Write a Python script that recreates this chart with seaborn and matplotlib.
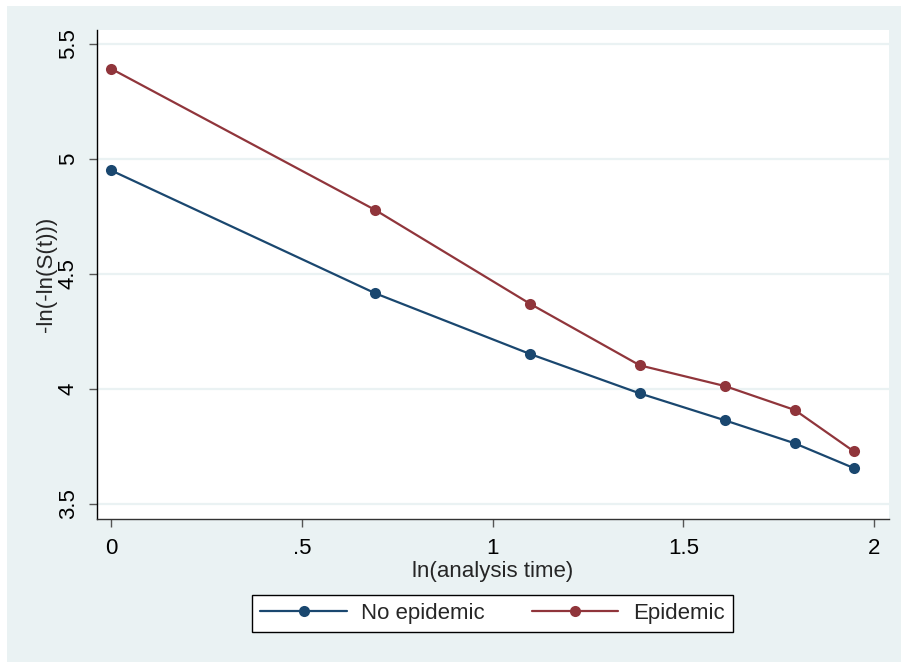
import numpy as np
import pandas as pd
import matplotlib
matplotlib.use("Agg")
import matplotlib.pyplot as plt
import seaborn as sns
from matplotlib.patches import Rectangle

# Data
log_time = [0.0, 0.693, 1.099, 1.386, 1.609, 1.792, 1.946]
no_epidemic = [4.951, 4.416, 4.152, 3.981, 3.864, 3.764, 3.657]
epidemic = [5.393, 4.778, 4.370, 4.103, 4.013, 3.909, 3.730]
groups = ["No epidemic", "Epidemic"]
x_ticks = [0, 0.5, 1, 1.5, 2]
x_tick_labels = ["0", ".5", "1", "1.5", "2"]
y_ticks = [3.5, 4, 4.5, 5, 5.5]
y_tick_labels = ["3.5", "4", "4.5", "5", "5.5"]

df = pd.DataFrame({
    "x": log_time * 2,
    "y": no_epidemic + epidemic,
    "group": [groups[0]] * len(log_time) + [groups[1]] * len(log_time),
})

sns.set_style("white")
plt.rcParams["font.family"] = ["Liberation Sans", "DejaVu Sans"]

W, H = 901, 662
fig = plt.figure(figsize=(W / 100, H / 100), dpi=100, facecolor="white")
bg = "#eaf2f3"
fig.patches.append(Rectangle((7 / W, -0.01), 1.02 - 7 / W, 1.01 - 6 / H, transform=fig.transFigure,
                             facecolor=bg, edgecolor="none", zorder=-10))

ax = fig.add_axes([97 / W, 1 - 519 / H, (889 - 97) / W, (519 - 30) / H])
ax.set_facecolor("white")

palette = {"No epidemic": "#1a476f", "Epidemic": "#90353b"}
sns.lineplot(data=df, x="x", y="y", hue="group", hue_order=groups, palette=palette,
             marker="o", markersize=8, markeredgewidth=0, linewidth=1.6, ax=ax,
             legend=True)

ax.set_xlim(-0.0366, 2.039)
ax.set_ylim(3.435, 5.561)
ax.set_xticks(x_ticks)
ax.set_xticklabels(x_tick_labels)
ax.set_yticks(y_ticks)
ax.set_yticklabels(y_tick_labels, rotation=90, va="center")
for yv in y_ticks:
    ax.axhline(yv, color=bg, lw=1.6, zorder=0)

for s in ["top", "right"]:
    ax.spines[s].set_visible(False)
ax.spines["left"].set_color("black")
ax.spines["bottom"].set_color("#333333")
ax.spines["left"].set_linewidth(1.0)
ax.spines["bottom"].set_linewidth(1.0)
ax.tick_params(axis="both", direction="out", length=6, width=1.0, color="#555555",
               labelsize=16, labelcolor="black", bottom=True, left=True)
ax.tick_params(axis="x", pad=8)
ax.tick_params(axis="y", pad=7)
ax.set_xlabel("ln(analysis time)", fontsize=16, labelpad=1)
ax.set_ylabel("-ln(-ln(S(t)))", fontsize=16, labelpad=1)

handles, labels = ax.get_legend_handles_labels()
ax.get_legend().remove()
leg = fig.legend(handles, labels, loc="center", ncol=2,
                 bbox_to_anchor=(492.5 / W, 1 - 613.5 / H), frameon=True, fancybox=False,
                 edgecolor="black", facecolor="white", fontsize=16, handlelength=3.9,
                 handletextpad=0.65, columnspacing=2.1, borderpad=0.38)
leg.get_frame().set_linewidth(1.0)
leg.get_frame().set_alpha(1)

fig.savefig("out.png", dpi=100, facecolor="white")
